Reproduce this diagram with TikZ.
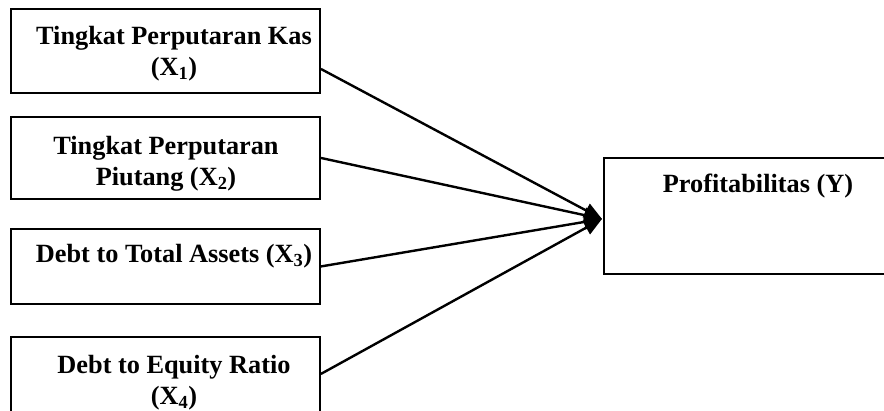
\documentclass[tikz,border=0pt]{standalone}
\usepackage{fontspec}
\setmainfont{Liberation Serif}
\usetikzlibrary{arrows.meta}
\begin{document}
\begin{tikzpicture}[x=1pt,y=-1pt,
  varbox/.style={draw=black,line width=1.9pt,inner sep=0pt,
    minimum width=309pt,anchor=north west},
  lbl/.style={inner sep=0pt,align=center,
    font=\bfseries\fontsize{26.3}{31}\selectfont},
  link/.style={line width=2.4pt,
    -{Triangle[length=18pt,width=15pt]}}]
\useasboundingbox (0,0) rectangle (884,411);
\clip (0,0) rectangle (884,411);
% independent variables
\node[varbox,minimum height=84pt] (b1) at (10,8) {};
\node[varbox,minimum height=82pt] (b2) at (10,116) {};
\node[varbox,minimum height=75pt] (b3) at (10,228) {};
\node[varbox,minimum height=82pt] (b4) at (10,336) {};
% dependent variable
\node[draw=black,line width=1.9pt,inner sep=0pt,minimum width=300pt,
  minimum height=116pt,anchor=north west] (y) at (603,157) {};
% labels
\node[lbl] (t1) at (174,54) {Tingkat Perputaran Kas\\(X\textsubscript{1})};
\node[lbl] (t2) at (166,164) {Tingkat Perputaran\\Piutang (X\textsubscript{2})};
\node[lbl,anchor=base] (t3) at (174,263) {Debt to Total Assets (X\textsubscript{3})};
\node[lbl] (t4) at (174,383) {Debt to Equity Ratio\\(X\textsubscript{4})};
\node[lbl,anchor=base] (ty) at (758,193) {Profitabilitas (Y)};
% paths
\coordinate (tip) at ([xshift=-1pt,yshift=-3pt]y.west);
\draw[link] ([yshift=-18pt]b1.east) -- (tip);
\draw[link] (b2.east) -- (tip);
\draw[link] (b3.east) -- (tip);
\draw[link] ([yshift=4pt]b4.east) -- (tip);
\end{tikzpicture}
\end{document}
